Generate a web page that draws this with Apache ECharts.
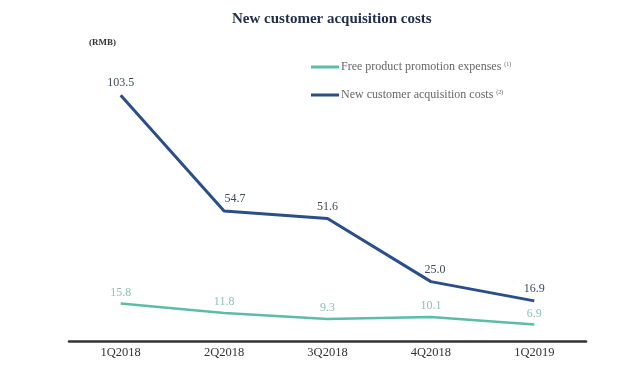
<!DOCTYPE html>
<html><head><meta charset="utf-8">
<script src="https://cdn.jsdelivr.net/npm/echarts@6/dist/echarts.min.js"></script>
<style>html,body{margin:0;padding:0;background:#fff}#c{width:640px;height:367px}</style>
</head><body><div id="c"></div>
<script>
var categories = ['1Q2018','2Q2018','3Q2018','4Q2018','1Q2019'];
var freePromo = [15.8, 11.8, 9.3, 10.1, 6.9];
var acqCost = [103.5, 54.7, 51.6, 25.0, 16.9];
var seriesNames = ['Free product promotion expenses', 'New customer acquisition costs'];
var seriesNotes = ['(1)', '(2)'];

var serif = '"Liberation Serif", "DejaVu Serif", serif';
var chart = echarts.init(document.getElementById('c'));
chart.setOption({
  backgroundColor: '#fff',
  animation: false,
  title: {
    text: 'New customer acquisition costs',
    left: 227, top: 7,
    textStyle: {fontFamily: serif, fontSize: 15, fontWeight: 'bold', color: '#1f2d4a'}
  },
  graphic: [{
    type: 'text', left: 89, top: 38,
    style: {text: '(RMB)', fontFamily: serif, fontSize: 9, fontWeight: 'bold', fill: '#333'}
  }],
  legend: {
    orient: 'vertical', left: 306, top: 56, itemGap: 16,
    itemWidth: 28, itemHeight: 3, icon: 'rect',
    data: seriesNames,
    formatter: function (n) { return n + ' {s|' + seriesNotes[seriesNames.indexOf(n)] + '}'; },
    textStyle: {fontFamily: serif, fontSize: 12, color: '#666', padding: [0,0,0,-3],
      rich: {s: {fontSize: 6, verticalAlign: 'top', padding: [0,0,6,0], color: '#666', fontFamily: serif}}}
  },
  grid: {left: 69, right: 54, top: 56, bottom: 26},
  xAxis: {
    type: 'category', data: categories, boundaryGap: true,
    axisLine: {lineStyle: {color: '#333', width: 2.5}},
    axisTick: {show: false},
    axisLabel: {fontFamily: serif, fontSize: 12.5, color: '#333', margin: 5}
  },
  yAxis: {type: 'value', min: 0, max: 120, show: false, splitLine: {show: false}},
  series: [{
    name: seriesNames[0], type: 'line', data: freePromo, symbol: 'circle', symbolSize: 0, showSymbol: true,
    lineStyle: {color: '#5cbca8', width: 2.5}, itemStyle: {color: '#5cbca8'},
    label: {show: true, position: 'top', distance: 5, formatter: function (p) { return p.value.toFixed(1); },
      fontFamily: serif, fontSize: 12, color: '#8cc2b8'}
  }, {
    name: seriesNames[1], type: 'line', data: acqCost, symbol: 'circle', symbolSize: 0, showSymbol: true,
    lineStyle: {color: '#2a4e8a', width: 3}, itemStyle: {color: '#2a4e8a'},
    labelLayout: function (p) { return p.dataIndex === 1 ? {dx: 11} : (p.dataIndex === 3 ? {dx: 4} : {}); },
    label: {show: true, position: 'top', distance: 6, formatter: function (p) { return p.value.toFixed(1); },
      fontFamily: serif, fontSize: 12, color: '#3c4a5e'}
  }]
});
</script></body></html>
